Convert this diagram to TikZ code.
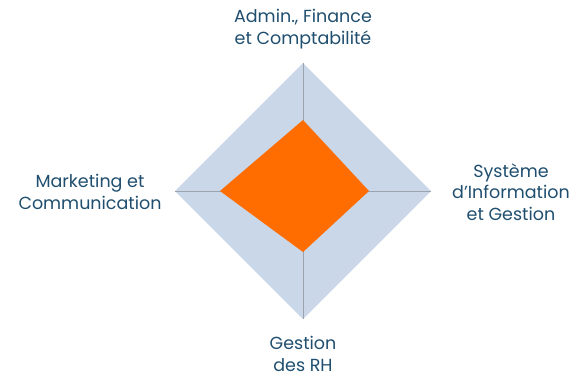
\documentclass[tikz,border=0pt]{standalone}
\usepackage{fontspec}
\setmainfont{Poppins}
\usetikzlibrary{positioning}
\definecolor{radarfill}{HTML}{C9D7E9}
\definecolor{radaraxis}{HTML}{9AA3AE}
\definecolor{scoreorange}{HTML}{FF6C00}
\definecolor{labelblue}{HTML}{1F4E6E}
\begin{document}
\begin{tikzpicture}[x=1pt,y=-1pt]
			\tikzset{axislabel/.style={align=center,text=labelblue,font=\fontsize{17.5}{21.5}\selectfont,inner sep=0pt}}
			\tikzset{axisline/.style={draw=radaraxis,line width=0.9pt}}
			\useasboundingbox (0,0) rectangle (576,376);
			\coordinate (centre) at (303,191);
			\coordinate (admin) at (303,63);
			\coordinate (si) at (431,191);
			\coordinate (rh) at (303,319);
			\coordinate (mkt) at (175,191);
			\fill[radarfill] (admin) -- (si) -- (rh) -- (mkt) -- cycle;
			\foreach \v in {admin,si,rh,mkt} \draw[axisline] (centre) -- (\v);
			\fill[scoreorange] (303,120) -- (369,191) -- (303,252) -- (220,191) -- cycle;
			\node[axislabel] (adminlabel) at (303,29) {Admin., Finance\\et Comptabilité};
			\node[axislabel] (silabel) at (511,192) {Système\\d’Information\\et Gestion};
			\node[axislabel] (rhlabel) at (303,354) {Gestion\\des RH};
			\node[axislabel] (mktlabel) at (90,192) {Marketing et\\Communication};
		\end{tikzpicture}
\end{document}
